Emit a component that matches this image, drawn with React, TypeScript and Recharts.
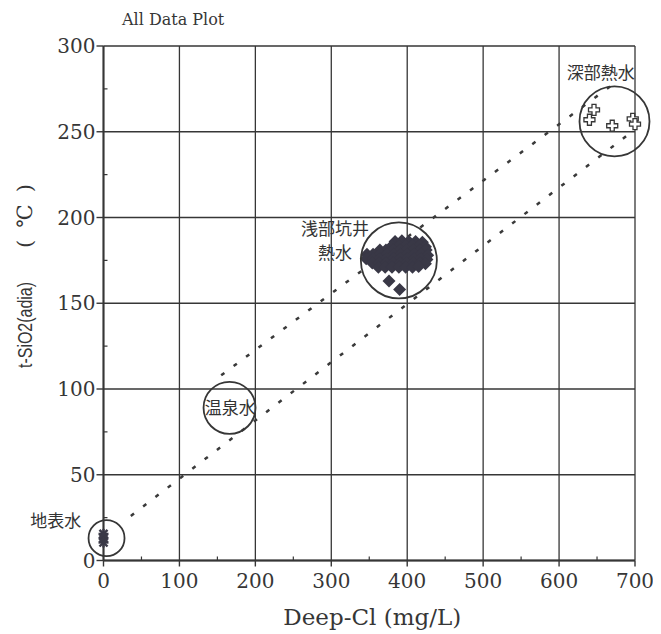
import { ScatterChart, Scatter, XAxis, YAxis, ReferenceLine, ReferenceDot } from "recharts";

const xMajorTicks = [0, 100, 200, 300, 400, 500, 600, 700];
const xMinorTicks = [50, 150, 250, 350, 450, 550, 650];
const yMajorTicks = [0, 50, 100, 150, 200, 250, 300];
const yMinorTicks = [25, 75, 125, 175, 225, 275];

// 地表水
const surfaceWater = [
  { x: 0, y: 10.5 },
  { x: 0, y: 13 },
  { x: 0, y: 15.5 },
];

// 浅部坑井熱水
const shallowWell = [
  { x: 384, y: 186 }, { x: 393, y: 186.5 }, { x: 402, y: 186 }, { x: 411, y: 186 }, { x: 420, y: 185.5 },
  { x: 380, y: 183.5 }, { x: 389, y: 183.5 }, { x: 398, y: 183.5 }, { x: 407, y: 183.5 }, { x: 416, y: 183.5 }, { x: 424, y: 183 },
  { x: 364, y: 181 }, { x: 372, y: 181 }, { x: 381, y: 181 }, { x: 390, y: 181 }, { x: 399, y: 181 }, { x: 408, y: 181 }, { x: 417, y: 181 }, { x: 425, y: 181 },
  { x: 347, y: 178.5 }, { x: 355, y: 178.5 }, { x: 364, y: 178.5 }, { x: 373, y: 178.5 }, { x: 382, y: 178.5 }, { x: 391, y: 178.5 }, { x: 400, y: 178.5 }, { x: 409, y: 178.5 }, { x: 418, y: 178.5 }, { x: 427, y: 178 },
  { x: 346, y: 176 }, { x: 355, y: 176 }, { x: 364, y: 176 }, { x: 373, y: 176 }, { x: 382, y: 176 }, { x: 391, y: 176 }, { x: 400, y: 176 }, { x: 409, y: 176 }, { x: 418, y: 176 }, { x: 426, y: 175.5 },
  { x: 354, y: 173.5 }, { x: 363, y: 173.5 }, { x: 372, y: 173.5 }, { x: 381, y: 173.5 }, { x: 390, y: 173.5 }, { x: 399, y: 173.5 }, { x: 408, y: 173.5 }, { x: 417, y: 173.5 }, { x: 424, y: 173 },
  { x: 362, y: 171 }, { x: 371, y: 171 }, { x: 380, y: 171 }, { x: 389, y: 171 }, { x: 398, y: 171 }, { x: 407, y: 171 }, { x: 415, y: 171.5 },
  { x: 376, y: 163 }, { x: 390, y: 158 },
];

// 深部熱水
const deepWater = [
  { x: 646, y: 262.7 },
  { x: 640, y: 257 },
  { x: 670, y: 253.5 },
  { x: 697, y: 257.5 },
  { x: 700, y: 254.5 },
];

// mixing lines
const lowerMixLine = [{ x: 36, y: 26 }, { x: 693, y: 249 }];
const upperMixLine = [{ x: 155, y: 108 }, { x: 675, y: 279 }];

// group outlines (centres)
const groupCircles = [
  { name: "地表水", x: 4, y: 13 },
  { name: "温泉水", x: 166, y: 89 },
  { name: "浅部坑井熱水", x: 389, y: 175 },
  { name: "深部熱水", x: 673, y: 256 },
];

const groupLabels = [
  { text: "地表水", x: -63, y: 24 },
  { text: "温泉水", x: 167, y: 90 },
  { text: "浅部坑井", x: 305, y: 194 },
  { text: "熱水", x: 305, y: 180 },
  { text: "深部熱水", x: 655, y: 285 },
];

const circleRadius: Record<string, number> = {
  地表水: 18,
  温泉水: 26,
  浅部坑井熱水: 38,
  深部熱水: 35,
};

const INK = "#363636";
const TICK_FONT = '"DejaVu Serif", serif';
const CJK_FONT = '"Noto Sans CJK JP", sans-serif';

const XTick = ({ x, y, payload }: any) => {
  if (!xMajorTicks.includes(payload.value)) {
    return <line x1={x} x2={x} y1={y} y2={y - 4} stroke={INK} strokeWidth={1.2} />;
  }
  return (
    <g>
      <line x1={x} x2={x} y1={y} y2={y + 6} stroke={INK} strokeWidth={1.4} />
      <text x={x} y={y + 20} textAnchor="middle" dominantBaseline="central" fontFamily={TICK_FONT} fontSize={20} fill={INK}>
        {payload.value}
      </text>
    </g>
  );
};

const YTick = ({ x, y, payload }: any) => {
  if (!yMajorTicks.includes(payload.value)) {
    return <line x1={x} x2={x + 4} y1={y} y2={y} stroke={INK} strokeWidth={1.2} />;
  }
  return (
    <g>
      <line x1={x - 7} x2={x} y1={y} y2={y} stroke={INK} strokeWidth={1.4} />
      <text x={x - 8} y={y} textAnchor="end" dominantBaseline="central" fontFamily={TICK_FONT} fontSize={20} fill={INK}>
        {payload.value}
      </text>
    </g>
  );
};

const XTitle = ({ viewBox }: any) => (
  <text
    x={viewBox.x + viewBox.width / 2 + 3}
    y={viewBox.y + 56}
    textAnchor="middle"
    dominantBaseline="central"
    fontFamily='"DejaVu Serif", serif'
    fontSize={23}
    fill={INK}
  >
    Deep-Cl (mg/L)
  </text>
);

// rotated title: name part and unit part are laid out separately
const YTitle = ({ viewBox }: any) => {
  const cx = viewBox.x + 17;
  const top = viewBox.y;
  const nameY = top + 279;
  const unitY = top + 170;
  return (
    <g fill={INK}>
      <text
        x={cx}
        y={nameY}
        transform={`rotate(-90, ${cx}, ${nameY})`}
        textAnchor="middle"
        dominantBaseline="central"
        fontFamily='"Liberation Sans", sans-serif'
        fontSize={20}
        textLength={86}
        lengthAdjust="spacingAndGlyphs"
      >
        t-SiO2(adia)
      </text>
      <text
        x={cx}
        y={unitY}
        transform={`rotate(-90, ${cx}, ${unitY})`}
        textAnchor="middle"
        dominantBaseline="central"
        fontFamily='"DejaVu Serif", serif'
        fontSize={21}
        textLength={64}
        lengthAdjust="spacing"
      >
        (℃)
      </text>
    </g>
  );
};

const Asterisk = ({ cx, cy }: any) => (
  <g stroke="#3a3946" strokeWidth={2.4}>
    <line x1={cx - 5} x2={cx + 5} y1={cy} y2={cy} />
    <line x1={cx} x2={cx} y1={cy - 5} y2={cy + 5} />
    <line x1={cx - 4} x2={cx + 4} y1={cy - 4} y2={cy + 4} />
    <line x1={cx - 4} x2={cx + 4} y1={cy + 4} y2={cy - 4} />
  </g>
);

const Diamond = ({ cx, cy }: any) => (
  <polygon
    points={`${cx},${cy - 6.5} ${cx + 6.5},${cy} ${cx},${cy + 6.5} ${cx - 6.5},${cy}`}
    fill="#393846"
  />
);

const OpenCross = ({ cx, cy }: any) => (
  <path
    d={`M${cx - 2},${cy - 5.5} h4 v3.5 h3.5 v4 h-3.5 v3.5 h-4 v-3.5 h-3.5 v-4 h3.5 z`}
    fill="#fff"
    stroke={INK}
    strokeWidth={1.3}
  />
);

const GroupText = (text: string) => ({ cx, cy }: any) => (
  <text x={cx} y={cy} textAnchor="middle" dominantBaseline="central" fontFamily={CJK_FONT} fontSize={17} fill="#333">
    {text}
  </text>
);

export default function App() {
  return (
    <div style={{ position: "relative", width: 653, height: 626, background: "#fff" }}>
      <div
        style={{
          position: "absolute",
          left: 114,
          top: 2,
          fontFamily: '"DejaVu Serif", serif',
          fontSize: 16,
          color: INK,
          whiteSpace: "nowrap",
        }}
      >
        All Data Plot
      </div>
      <ScatterChart width={653} height={626} margin={{ top: 38, right: 26, bottom: 0, left: 0 }}>
        <XAxis
          type="number"
          dataKey="x"
          domain={[0, 700]}
          ticks={[...xMajorTicks, ...xMinorTicks].sort((a, b) => a - b)}
          interval={0}
          tickSize={0}
          tickMargin={0}
          tickLine={false}
          tick={<XTick />}
          axisLine={{ stroke: INK, strokeWidth: 2 }}
          height={73.5}
          label={<XTitle />}
        />
        <YAxis
          type="number"
          dataKey="y"
          domain={[0, 300]}
          ticks={[...yMajorTicks, ...yMinorTicks].sort((a, b) => a - b)}
          interval={0}
          tickSize={0}
          tickMargin={0}
          tickLine={false}
          tick={<YTick />}
          axisLine={{ stroke: INK, strokeWidth: 2 }}
          width={95.5}
          label={<YTitle />}
        />

        {xMajorTicks.map((v) => (
          <ReferenceLine key={`gx-${v}`} x={v} stroke={INK} strokeWidth={1.3} />
        ))}
        {yMajorTicks.map((v) => (
          <ReferenceLine key={`gy-${v}`} y={v} stroke={INK} strokeWidth={1.3} />
        ))}

        <ReferenceLine segment={lowerMixLine} stroke="#3a3a3a" strokeWidth={2.5} strokeDasharray="4 11.5" />
        <ReferenceLine segment={upperMixLine} stroke="#3a3a3a" strokeWidth={2.5} strokeDasharray="4 11.5" />

        <Scatter name="地表水" data={surfaceWater} shape={<Asterisk />} isAnimationActive={false} />
        <Scatter name="浅部坑井熱水" data={shallowWell} shape={<Diamond />} isAnimationActive={false} />
        <Scatter name="深部熱水" data={deepWater} shape={<OpenCross />} isAnimationActive={false} />

        {groupCircles.map((c) => (
          <ReferenceDot
            key={c.name}
            x={c.x}
            y={c.y}
            r={circleRadius[c.name]}
            fill="none"
            stroke={INK}
            strokeWidth={1.8}
            ifOverflow="visible"
          />
        ))}
        {groupLabels.map((l) => (
          <ReferenceDot key={l.text} x={l.x} y={l.y} r={0} ifOverflow="visible" shape={GroupText(l.text)} />
        ))}
      </ScatterChart>
    </div>
  );
}
